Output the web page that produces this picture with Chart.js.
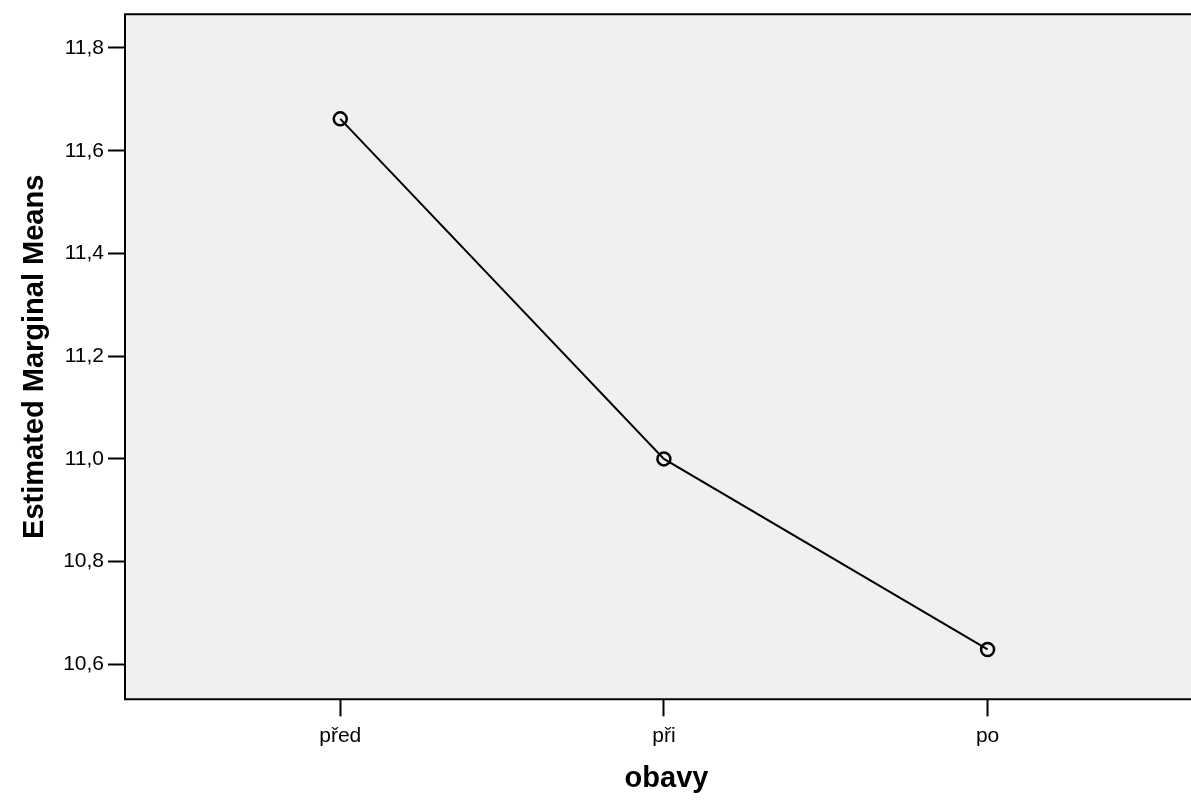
<!DOCTYPE html>
<html>
<head>
<meta charset="utf-8">
<script src="https://cdn.jsdelivr.net/npm/chart.js@4/dist/chart.umd.min.js"></script>
<style>
html,body{margin:0;padding:0;background:#fff;overflow:hidden;}
#clip{position:relative;width:1191px;height:800px;overflow:hidden;}
#wrap{position:relative;width:1217px;height:800px;}
</style>
</head>
<body>
<div id="clip"><div id="wrap"><canvas id="c"></canvas></div></div>
<script>
const categories = ['před', 'při', 'po'];
const means = [11.662, 11.0, 10.629];
const yTicks = [10.6, 10.8, 11.0, 11.2, 11.4, 11.6, 11.8];
const xTitle = 'obavy';
const yTitle = 'Estimated Marginal Means';

const points = categories.map((c, i) => ({ x: i + 1, y: means[i] }));

const frame = {
  id: 'frame',
  beforeDraw(chart) {
    const { ctx, chartArea: a } = chart;
    ctx.save();
    ctx.fillStyle = '#f0f0f0';
    ctx.fillRect(a.left, a.top, chart.width - a.left, a.bottom - a.top);
    ctx.restore();
  },
  beforeDatasetsDraw(chart) {
    const { ctx, chartArea: a } = chart;
    ctx.save();
    ctx.strokeStyle = '#000';
    ctx.lineWidth = 2;
    ctx.beginPath();
    ctx.moveTo(chart.width + 5, a.top);
    ctx.lineTo(a.left, a.top);
    ctx.lineTo(a.left, a.bottom);
    ctx.lineTo(chart.width + 5, a.bottom);
    ctx.stroke();
    ctx.restore();
  }
};

new Chart(document.getElementById('c'), {
  type: 'line',
  data: {
    datasets: [{
      data: points,
      borderColor: '#000',
      borderWidth: 2,
      tension: 0,
      pointRadius: 6.5,
      pointHoverRadius: 6.5,
      pointBorderWidth: 2.5,
      pointBorderColor: '#000',
      pointBackgroundColor: 'rgba(0,0,0,0)',
      fill: false
    }]
  },
  options: {
    responsive: true,
    maintainAspectRatio: false,
    animation: false,
    events: [],
    layout: { padding: { top: 14.3, right: 0, bottom: 0, left: 0 } },
    plugins: { legend: { display: false }, tooltip: { enabled: false } },
    scales: {
      x: {
        type: 'linear',
        min: 0.335,
        max: 3.681,
        afterFit(s) { s.height = 100.7; s.paddingLeft = 0; s.paddingRight = 0; },
        afterBuildTicks(s) { s.ticks = categories.map((c, i) => ({ value: i + 1 })); },
        ticks: {
          color: '#000',
          font: { family: 'Liberation Sans, Arial, sans-serif', size: 21 },
          padding: 7,
          maxRotation: 0,
          autoSkip: false,
          callback: (v) => categories[Math.round(v) - 1]
        },
        grid: { drawOnChartArea: false, drawTicks: true, tickLength: 17, tickWidth: 2, tickColor: '#000' },
        border: { display: false },
        title: {
          display: true,
          text: xTitle,
          color: '#000',
          font: { family: 'Liberation Sans, Arial, sans-serif', size: 29, weight: 'bold' },
          padding: { top: 0, bottom: 4 }
        }
      },
      y: {
        type: 'linear',
        min: 10.5319,
        max: 11.8656,
        afterFit(s) { s.width = 125; s.paddingTop = 0; s.paddingBottom = 0; },
        afterBuildTicks(s) { s.ticks = yTicks.map(v => ({ value: v })); },
        ticks: {
          color: '#000',
          font: { family: 'Liberation Sans, Arial, sans-serif', size: 21 },
          padding: 4,
          callback: (v) => v.toFixed(1).replace('.', ',')
        },
        grid: { drawOnChartArea: false, drawTicks: true, tickLength: 17, tickWidth: 2, tickColor: '#000' },
        border: { display: false },
        title: {
          display: true,
          text: yTitle,
          color: '#000',
          font: { family: 'Liberation Sans, Arial, sans-serif', size: 29, weight: 'bold' },
          padding: { top: 18, bottom: 0 }
        }
      }
    }
  },
  plugins: [frame]
});
</script>
</body>
</html>
